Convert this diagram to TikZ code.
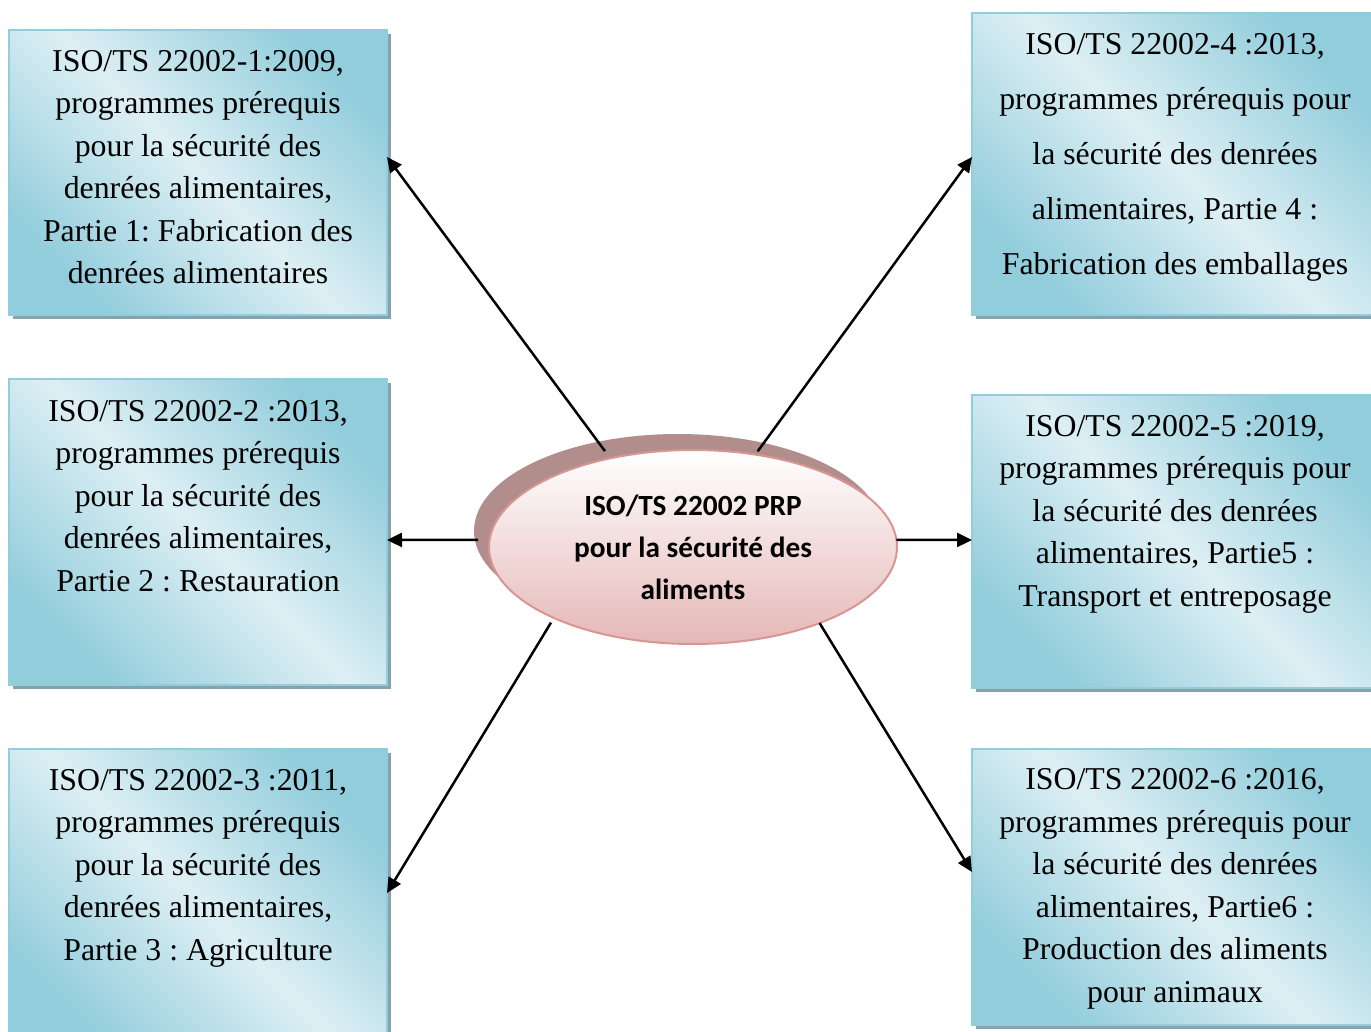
\documentclass[tikz,border=0pt]{standalone}
\usepackage{fontspec}
\setmainfont{Liberation Serif}
\newfontfamily\calfont{Carlito}
\usetikzlibrary{shapes.geometric,arrows.meta,shadows}
\definecolor{bdark}{HTML}{92CDDC}
\definecolor{blight}{HTML}{DDEFF4}
\definecolor{bline}{HTML}{93CDDD}
\definecolor{bshadow}{HTML}{86A3AB}
\definecolor{pbot}{HTML}{E5B8B7}
\definecolor{pline}{HTML}{D99594}
\definecolor{pshadow}{HTML}{B18E8C}
\pgfdeclarehorizontalshading{boxsh}{100bp}{color(0bp)=(bdark); color(25bp)=(bdark); color(50bp)=(blight); color(75bp)=(bdark); color(100bp)=(bdark)}
\frenchspacing
\begin{document}
\begin{tikzpicture}[x=1pt,y=-1pt,
  stdbox/.style={rectangle, inner sep=0pt, outer sep=0pt, shading=boxsh, shading angle=45,
    draw=bline, line width=1.5pt,
    general shadow={fill=bshadow, shadow xshift=4pt, shadow yshift=-4pt}},
  boxtxt/.style={align=center, inner sep=0pt, font=\frenchspacing\fontsize{31.8}{42.5}\selectfont},
  wide/.style={font=\frenchspacing\fontsize{31.8}{55}\selectfont},
  arr/.style={line width=2.5pt, -{Triangle[length=15pt,width=14pt]}},
  ellbase/.style={ellipse, minimum width=408pt, minimum height=194pt, inner sep=0pt, outer sep=0pt}
]
\useasboundingbox (0,0) rectangle (1371,1032);
\fill[white] (0,0) rectangle (1371,1032);

% boxes
\node[stdbox, minimum width=378pt, minimum height=285pt] (b1) at (198,172.5) {};
\node[stdbox, minimum width=378pt, minimum height=306pt] (b2) at (198,532) {};
\node[stdbox, minimum width=378pt, minimum height=306pt] (b3) at (198,902) {};
\node[stdbox, minimum width=406pt, minimum height=302pt] (b4) at (1175,164) {};
\node[stdbox, minimum width=406pt, minimum height=293pt] (b5) at (1175,541.5) {};
\node[stdbox, minimum width=406pt, minimum height=276pt] (b6) at (1175,887) {};

% box texts
\node[boxtxt] (t1) at (198,167) {ISO/TS 22002-1:2009,\\programmes prérequis\\pour la sécurité des\\denrées alimentaires,\\Partie 1: Fabrication des\\denrées alimentaires};
\node[boxtxt] (t2) at (198,496) {ISO/TS 22002-2 :2013,\\programmes prérequis\\pour la sécurité des\\denrées alimentaires,\\Partie 2 : Restauration};
\node[boxtxt] (t3) at (198,868) {ISO/TS 22002-3 :2011,\\programmes prérequis\\pour la sécurité des\\denrées alimentaires,\\Partie 3 : Agriculture};
\node[boxtxt, wide] (t4) at (1175,157.5) {ISO/TS 22002-4 :2013,\\programmes prérequis pour\\la sécurité des denrées\\alimentaires, Partie 4 :\\Fabrication des emballages};
\node[boxtxt] (t5) at (1175,514) {ISO/TS 22002-5 :2019,\\programmes prérequis pour\\la sécurité des denrées\\alimentaires, Partie5 :\\Transport et entreposage};
\node[boxtxt] (t6) at (1175,889) {ISO/TS 22002-6 :2016,\\programmes prérequis pour\\la sécurité des denrées\\alimentaires, Partie6 :\\Production des aliments\\pour animaux};

% central ellipse
\node[ellbase, fill=pshadow] (ellsh) at (678,531) {};
\node[ellbase, top color=white, bottom color=pbot, draw=pline, line width=2pt,
      align=center, font=\calfont\bfseries\fontsize{29.3}{42}\selectfont] (ell) at (693,547)
      {ISO/TS 22002 PRP\\pour la sécurité des\\aliments};

% connectors
\draw[arr, shorten <=9pt] (ell.133.2) -- ([yshift=15.5pt]b1.east);
\draw[arr, shorten <=4pt] (ell.56.4) -- ([yshift=7pt]b4.west);
\draw[arr, shorten <=11.5pt] (ell.178) -- ([yshift=-8pt]b2.east);
\draw[arr] (ell.2) -- ([yshift=1.5pt]b5.west);
\draw[arr, shorten <=5.5pt] (ell.207.3) -- ([yshift=9pt]b3.east);
\draw[arr] (ell.329.1) -- ([yshift=15pt]b6.west);
\end{tikzpicture}
\end{document}
